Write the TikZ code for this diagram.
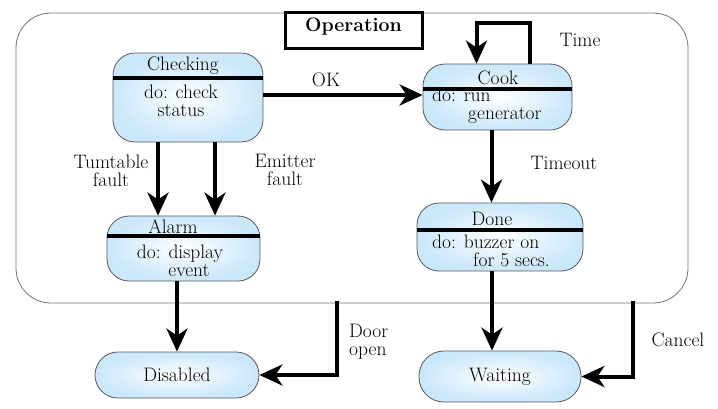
\documentclass[tikz,border=0pt]{standalone}
\usetikzlibrary{arrows.meta}
\definecolor{stateblue}{RGB}{202,231,251}
\begin{document}
\begin{tikzpicture}[x=1pt,y=-1pt,
  every node/.style={font=\fontsize{19.5}{18}\selectfont,inner sep=0pt},
  state/.style={draw=black!65,line width=0.8pt,rounded corners=22pt,inner color=white,outer color=stateblue},
  divider/.style={line width=3.5pt},
  arr/.style={line width=4pt,-{Stealth[length=23pt,width=21pt,inset=7pt]}},
  lbl/.style={align=center}]
\useasboundingbox (0,0) rectangle (718,408);
% superstate
\draw[black!55,line width=0.8pt,rounded corners=35pt] (16,13) rectangle (688,303);
\node[draw,line width=3pt,minimum width=137pt,minimum height=36pt] (opbox) at (353.5,30) {};
\node[font=\fontsize{19.5}{18}\selectfont\bfseries] (optxt) at (353.5,27) {Operation};
% states
\node[state,minimum width=150pt,minimum height=89pt] (chk) at (188,97.5) {};
\node (chkT) at (183,66) {Checking};
\draw[divider] (chk.west |- 0,78) -- (chk.east |- 0,78);
\node[lbl] (chkB) at (181,101) {do: check\\status};
\node[state,minimum width=149pt,minimum height=66pt] (cook) at (497.5,97) {};
\node (cookT) at (498,78) {Cook};
\draw[divider] (cook.west |- 0,89) -- (cook.east |- 0,89);
\node[align=left,anchor=west] (cookB) at (432,106) {do: run\\\hspace{36pt}generator};
\node[state,minimum width=153pt,minimum height=65pt] (alarm) at (183.5,248.5) {};
\node (alarmT) at (173,227) {Alarm};
\draw[divider] (alarm.west |- 0,236) -- (alarm.east |- 0,236);
\node[lbl] (alarmB) at (180,261) {do: display\\\hspace{18pt}event};
\node[state,minimum width=166pt,minimum height=68pt] (done) at (500,237) {};
\node (doneT) at (492,219) {Done};
\draw[divider] (done.west |- 0,230) -- (done.east |- 0,230);
\node[align=left,anchor=west] (doneB) at (432,251) {do: buzzer on\\\hspace{41pt}for 5 secs.};
\node[state,rounded corners=23pt,minimum width=164pt,minimum height=46pt] (dis) at (177,375) {Disabled};
\node[state,rounded corners=25pt,minimum width=162pt,minimum height=51pt] (wait) at (500,376.5) {Waiting};
% transitions
\draw[arr] (chk.east |- 0,95) -- (cook.west |- 0,95);
\node (ok) at (326,80) {OK};
\draw[arr] ([xshift=32pt]cook.north) -- ++(0,-41) -| ([xshift=-21pt]cook.north);
\node (time) at (580,40) {Time};
\draw[arr] ([xshift=-30pt]chk.south) -- ([xshift=-30pt]chk.south |- alarm.north);
\draw[arr] ([xshift=27pt]chk.south) -- ([xshift=27pt]chk.south |- alarm.north);
\node[lbl] (turn) at (111,171) {Tumtable\\fault};
\node[lbl] (emit) at (285,170) {Emitter\\fault};
\draw[arr] ([xshift=-6pt]cook.south) -- ([xshift=-6pt]cook.south |- done.north);
\node (tout) at (564,163) {Timeout};
\draw[arr] (alarm.south -| dis.north) -- (dis.north);
\coordinate (doorTop) at (337,301);
\draw[arr] (doorTop) |- (dis.east);
\node[align=left,anchor=west] (door) at (349,342) {Door\\open};
\draw[arr] ([xshift=-8pt]done.south) -- ([xshift=-8pt]done.south |- wait.north);
\coordinate (cancelTop) at (633,301);
\draw[arr] (cancelTop) |- (wait.east);
\node (cancel) at (678,340) {Cancel};
\end{tikzpicture}
\end{document}
